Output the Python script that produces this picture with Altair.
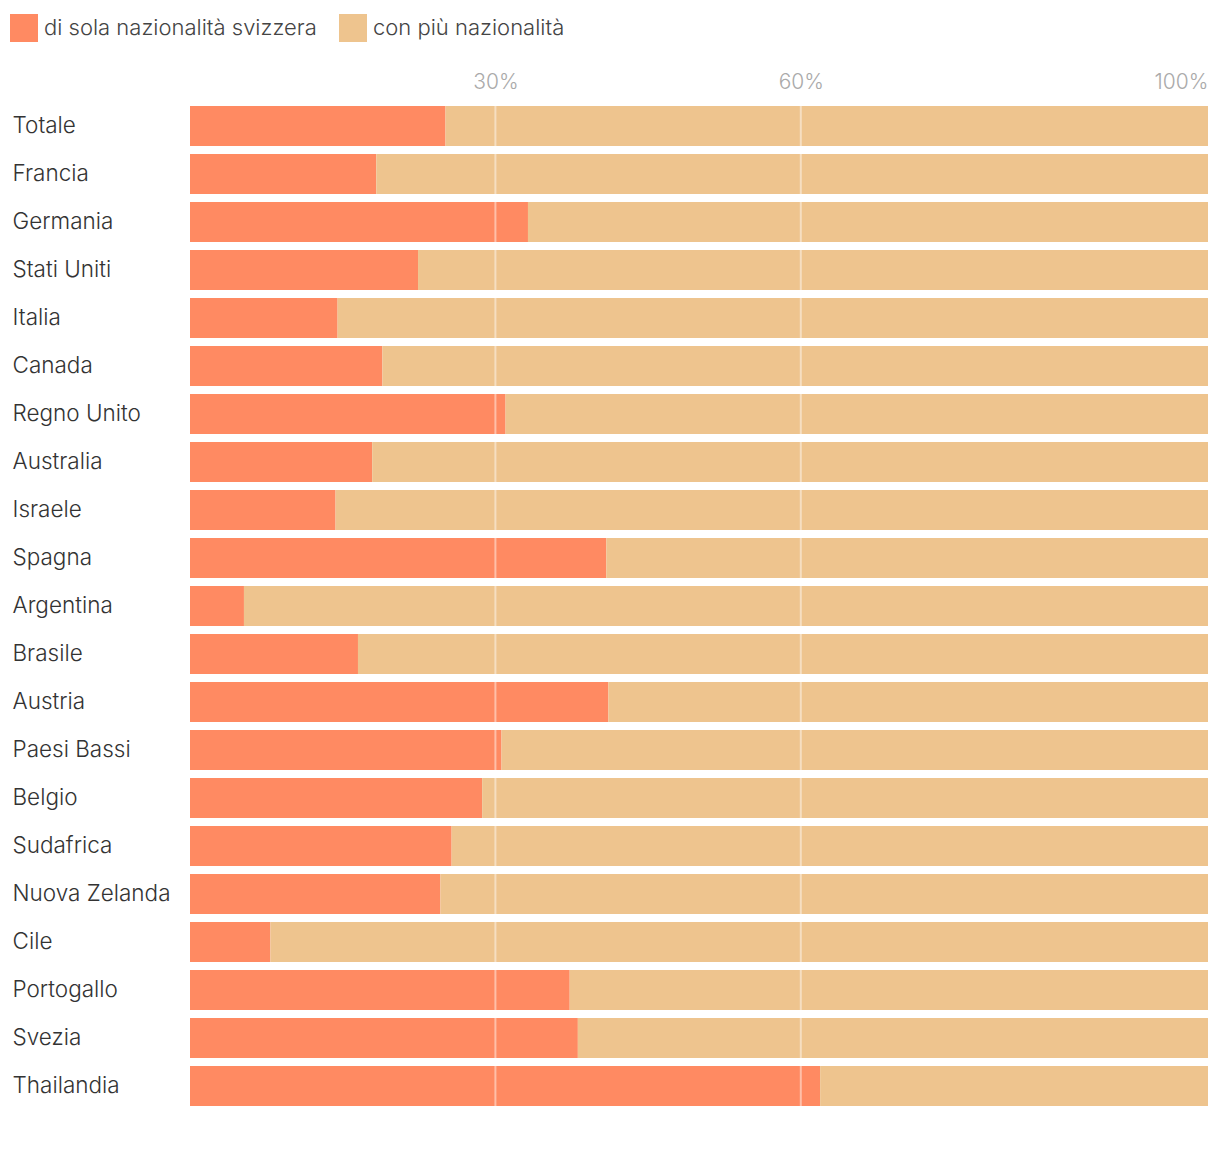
import altair as alt
import pandas as pd

countries = ["Totale", "Francia", "Germania", "Stati Uniti", "Italia", "Canada",
             "Regno Unito", "Australia", "Israele", "Spagna", "Argentina", "Brasile",
             "Austria", "Paesi Bassi", "Belgio", "Sudafrica", "Nuova Zelanda", "Cile",
             "Portogallo", "Svezia", "Thailandia"]
sola = [25.1, 18.3, 33.2, 22.4, 14.5, 18.9, 31.0, 17.9, 14.3, 40.9, 5.3, 16.5,
        41.1, 30.6, 28.7, 25.7, 24.6, 7.9, 37.3, 38.1, 61.9]
series = ["di sola nazionalità svizzera", "con più nazionalità"]
colors = ["#FF8A62", "#EEC48E"]
ticks = [0.3, 0.6, 1.0]
gridlines = [0.3, 0.6]

rows = []
for c, v in zip(countries, sola):
    rows.append({"paese": c, "serie": series[0], "valore": v / 100, "ord": 0})
    rows.append({"paese": c, "serie": series[1], "valore": 1 - v / 100, "ord": 1})
df = pd.DataFrame(rows)

font = "Inter"

bars = alt.Chart(df).mark_bar().encode(
    y=alt.Y("paese:N", sort=countries, title=None,
            scale=alt.Scale(paddingInner=8 / 48, paddingOuter=4 / 48),
            axis=alt.Axis(orient="left", domain=False, ticks=False, labelAlign="left",
                          labelPadding=178, labelFontSize=22.5, labelColor="#333333",
                          labelFont=font, labelFontWeight=300, labelLimit=200)),
    x=alt.X("valore:Q", stack="zero", title=None,
            scale=alt.Scale(domain=[0, 1], nice=False),
            axis=alt.Axis(orient="top", values=ticks, format=".0%", domain=False,
                          ticks=False, grid=False, labelPadding=10, labelFontSize=21,
                          labelColor="#aaaaaa", labelFont=font, labelFontWeight=300,
                          labelFlush=True)),
    color=alt.Color("serie:N", sort=series,
                    scale=alt.Scale(domain=series, range=colors),
                    legend=alt.Legend(orient="none", legendX=-180, legendY=-88,
                                      direction="horizontal", title=None,
                                      symbolType="square", symbolSize=784,
                                      symbolStrokeWidth=0, symbolOpacity=1,
                                      labelFontSize=22, labelColor="#444444",
                                      labelFont=font, labelFontWeight=300,
                                      columnPadding=22,
                                      labelOffset=6, labelLimit=400)),
    order=alt.Order("ord:Q"),
)

grid = alt.Chart(pd.DataFrame({"g": gridlines})).mark_rule(
    color="white", strokeWidth=2, opacity=0.45
).encode(x=alt.X("g:Q"))

chart = alt.layer(bars, grid).properties(
    width=1018, height=1008,
    padding={"left": 190, "top": 102, "right": 12, "bottom": 56},
    autosize=alt.AutoSizeParams(type="none"),
).configure_view(stroke=None)

chart.save("out.html", embed_options={"renderer": "svg", "actions": False})
